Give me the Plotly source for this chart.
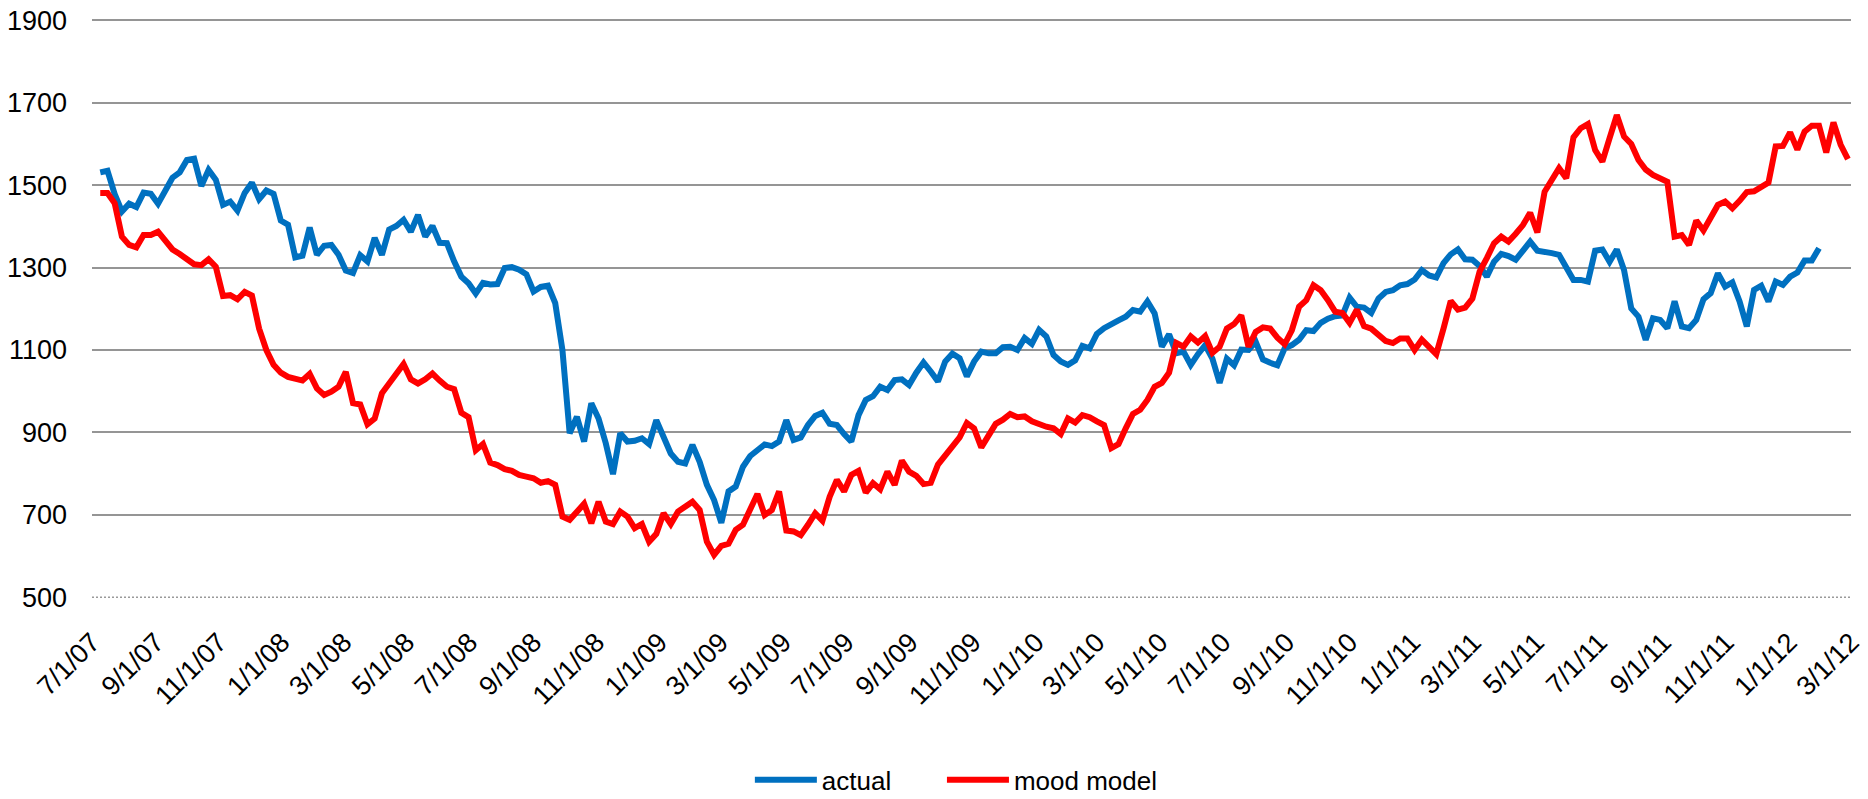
import plotly.graph_objects as go
import pandas as pd

# weekly readings (first week: 2007-07-09)
actual = [
    1531, 1535, 1478, 1436, 1455, 1447, 1482, 1479, 1455, 1485,
    1518, 1531, 1561, 1564, 1498, 1537, 1513, 1452, 1460, 1438,
    1481, 1506, 1466, 1487, 1479, 1414, 1404, 1325, 1329, 1397,
    1331, 1353, 1355, 1331, 1293, 1287, 1330, 1315, 1372, 1331,
    1392, 1401, 1416, 1387, 1428, 1375, 1401, 1360, 1359, 1315,
    1278, 1262, 1237, 1263, 1259, 1260, 1299, 1301, 1295, 1284,
    1242, 1253, 1256, 1214, 1100, 898, 938, 878, 971, 934,
    874, 799, 898, 878, 880, 886, 872, 930, 890, 849,
    829, 825, 870, 829, 773, 736, 681, 757, 769, 817,
    843, 858, 871, 867, 878, 930, 882, 888, 918, 940,
    948, 921, 918, 896, 878, 942, 979, 988, 1011, 1003,
    1027, 1029, 1015, 1045, 1070, 1048, 1024, 1072, 1091, 1080,
    1036, 1072, 1096, 1092, 1092, 1107, 1108, 1100, 1129, 1115,
    1149, 1133, 1088, 1072, 1064, 1075, 1110, 1104, 1139, 1153,
    1161, 1172, 1181, 1197, 1193, 1218, 1189, 1108, 1138, 1092,
    1096, 1064, 1090, 1112, 1079, 1020, 1079, 1063, 1101, 1100,
    1120, 1077, 1069, 1063, 1104, 1112, 1125, 1148, 1146, 1166,
    1176, 1182, 1184, 1227, 1205, 1203, 1190, 1225, 1241, 1245,
    1257, 1260, 1271, 1294, 1281, 1276, 1311, 1332, 1344, 1320,
    1319, 1304, 1278, 1314, 1333, 1328, 1319, 1339, 1363, 1341,
    1339, 1335, 1331, 1301, 1270, 1270, 1266, 1341, 1344, 1314,
    1344, 1294, 1201, 1181, 1125, 1177, 1173, 1153, 1218, 1157,
    1153, 1173, 1223, 1238, 1286, 1254, 1264, 1218, 1157, 1246,
    1256, 1218, 1266, 1258, 1278, 1288, 1317, 1317, 1347,
]

mood_model = [
    1481, 1481, 1456, 1375, 1355, 1349, 1379, 1379, 1387, 1367,
    1344, 1333, 1322, 1308, 1306, 1320, 1302, 1231, 1233, 1223,
    1241, 1232, 1152, 1100, 1064, 1045, 1035, 1030, 1026, 1042,
    1007, 991, 999, 1011, 1047, 971, 968, 920, 934, 995,
    1019, 1047, 1066, 1029, 1019, 1029, 1043, 1026, 1011, 1005,
    948, 937, 857, 872, 827, 821, 811, 807, 797, 793,
    789, 778, 782, 773, 696, 688, 708, 727, 680, 732,
    684, 678, 708, 696, 668, 678, 635, 654, 704, 678,
    708, 720, 732, 712, 635, 603, 625, 630, 664, 676,
    716, 751, 700, 712, 757, 662, 660, 651, 676, 704,
    686, 744, 785, 757, 797, 807, 754, 777, 762, 805,
    773, 832, 805, 795, 775, 778, 822, 845, 865, 888,
    923, 910, 864, 890, 921, 931, 945, 937, 939, 927,
    919, 914, 910, 896, 934, 924, 942, 937, 927, 918,
    862, 872, 910, 945, 955, 979, 1011, 1020, 1045, 1117,
    1108, 1133, 1118, 1134, 1093, 1108, 1152, 1163, 1184, 1108,
    1144, 1155, 1152, 1130, 1114, 1148, 1205, 1221, 1257, 1245,
    1221, 1193, 1190, 1166, 1198, 1158, 1152, 1136, 1122, 1117,
    1128, 1128, 1100, 1125, 1108, 1090, 1152, 1219, 1198, 1203,
    1225, 1290, 1323, 1359, 1375, 1363, 1382, 1403, 1433, 1385,
    1484, 1512, 1541, 1517, 1616, 1638, 1648, 1585, 1557, 1614,
    1670, 1618, 1600, 1561, 1538, 1525, 1517, 1508, 1375, 1379,
    1355, 1414, 1390, 1424, 1452, 1460, 1444, 1462, 1483, 1485,
    1495, 1506, 1594, 1595, 1628, 1586, 1630, 1644, 1644, 1579,
    1652, 1598, 1563,
]

week_dates = pd.date_range("2007-07-09", periods=len(mood_model), freq="7D")

tick_dates = [
    "2007-07-01", "2007-09-01", "2007-11-01", "2008-01-01", "2008-03-01",
    "2008-05-01", "2008-07-01", "2008-09-01", "2008-11-01", "2009-01-01",
    "2009-03-01", "2009-05-01", "2009-07-01", "2009-09-01", "2009-11-01",
    "2010-01-01", "2010-03-01", "2010-05-01", "2010-07-01", "2010-09-01",
    "2010-11-01", "2011-01-01", "2011-03-01", "2011-05-01", "2011-07-01",
    "2011-09-01", "2011-11-01", "2012-01-01", "2012-03-01",
]
tick_labels = [
    "7/1/07", "9/1/07", "11/1/07", "1/1/08", "3/1/08",
    "5/1/08", "7/1/08", "9/1/08", "11/1/08", "1/1/09",
    "3/1/09", "5/1/09", "7/1/09", "9/1/09", "11/1/09",
    "1/1/10", "3/1/10", "5/1/10", "7/1/10", "9/1/10",
    "11/1/10", "1/1/11", "3/1/11", "5/1/11", "7/1/11",
    "9/1/11", "11/1/11", "1/1/12", "3/1/12",
]
y_ticks = [500, 700, 900, 1100, 1300, 1500, 1700, 1900]

FONT = "Liberation Sans, Arial, sans-serif"

fig = go.Figure()
fig.add_trace(go.Scatter(
    x=week_dates[:len(actual)], y=actual, name="actual", mode="lines",
    line=dict(color="#0070C0", width=6), legend="legend",
))
fig.add_trace(go.Scatter(
    x=week_dates, y=mood_model, name="mood model", mode="lines",
    line=dict(color="#FF0000", width=6), legend="legend2",
))

fig.add_shape(
    type="line", xref="paper", x0=0, x1=1, yref="y", y0=y_ticks[0], y1=y_ticks[0],
    line=dict(color="#9a9a9a", width=2, dash="2px,2px"), layer="above",
)

legend_common = dict(
    orientation="h", xanchor="left", xref="paper",
    y=0.024, yanchor="middle", yref="container",
    font=dict(family=FONT, size=26, color="black"),
    itemwidth=62, bgcolor="rgba(0,0,0,0)",
)

fig.update_layout(
    width=1868, height=799,
    margin=dict(l=92, r=17, t=19, b=201, pad=0),
    paper_bgcolor="white", plot_bgcolor="white",
    font=dict(family=FONT, size=27, color="black"),
    showlegend=True,
    legend=dict(x=0.374, **legend_common),
    legend2=dict(x=0.4832, **legend_common),
    xaxis=dict(
        type="date", range=["2007-07-01", "2012-03-01"],
        tickmode="array", tickvals=tick_dates, ticktext=tick_labels,
        tickangle=-45, showgrid=False, zeroline=False, showline=False,
        ticks="", ticklabelstandoff=22, automargin=False,
        tickfont=dict(family=FONT, size=27, color="black"),
    ),
    yaxis=dict(
        range=[498.5, 1903], tickmode="array", tickvals=y_ticks,
        showgrid=True, gridcolor="#959595", gridwidth=2,
        zeroline=False, showline=False, ticks="", ticklabelstandoff=24,
        automargin=False,
        tickfont=dict(family=FONT, size=27, color="black"),
    ),
)

fig.write_html(
    "out.html",
    config={"displayModeBar": False},
    post_script="document.body.style.margin='0';document.body.style.overflow='hidden';",
)
